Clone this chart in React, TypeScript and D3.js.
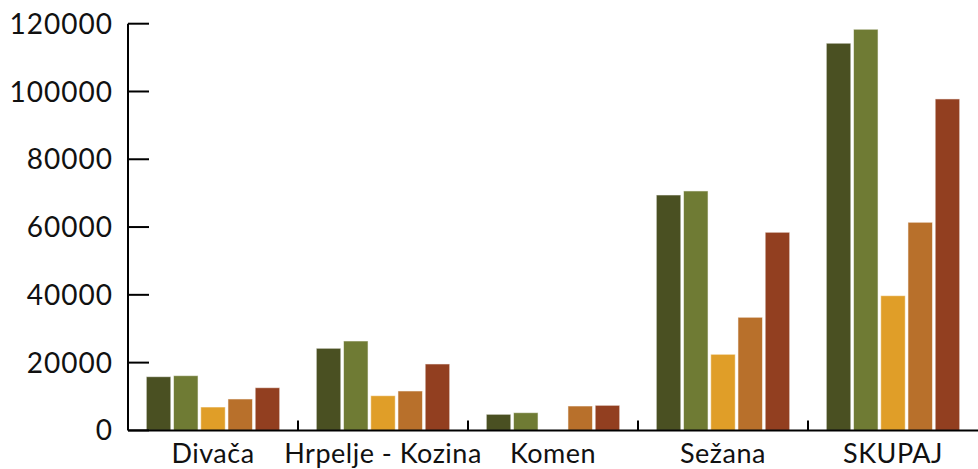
import { useRef, useEffect } from "react"
import * as d3 from "d3"

const categories = ["Divača", "Hrpelje - Kozina", "Komen", "Sežana", "SKUPAJ"]
const seriesNames = ["s1", "s2", "s3", "s4", "s5"]
const series1 = [15850, 24230, 4750, 69460, 114240]
const series2 = [16150, 26380, 5230, 70650, 118360]
const series3 = [6900, 10240, 0, 22460, 39750]
const series4 = [9270, 11630, 7200, 33380, 61410]
const series5 = [12600, 19600, 7400, 58460, 97800]
const colors = ["#4a5022", "#6f7b34", "#e09e28", "#b8702b", "#923f20"]
const yTicks = [0, 20000, 40000, 60000, 80000, 100000, 120000]

export default function App() {
  const svgRef = useRef<SVGSVGElement>(null)

  function drawChart() {
    const width = 978
    const height = 469
    const left = 128
    const right = 978
    const top = 23.7
    const bottom = 430.4
    const fontFamily = "Lato, 'Open Sans', sans-serif"
    const allSeries = [series1, series2, series3, series4, series5]

    const svg = d3.select(svgRef.current).attr("width", width).attr("height", height)
    svg.selectAll("*").remove()

    const x = d3.scaleBand().domain(categories).range([left, right]).padding(0)
    const groupPad = 18.3
    const xInner = d3
      .scaleBand()
      .domain(seriesNames)
      .range([groupPad, x.bandwidth() - groupPad])
      .paddingInner(0.1)
    const y = d3.scaleLinear().domain([0, 120000]).range([bottom, top])

    // Bars
    const groups = svg
      .append("g")
      .selectAll("g")
      .data(categories)
      .enter()
      .append("g")
      .attr("transform", (d) => `translate(${x(d)}, 0)`)

    groups
      .selectAll("rect")
      .data((d, i) => allSeries.map((s, j) => ({ key: seriesNames[j], value: s[i], color: colors[j] })))
      .enter()
      .filter((d) => d.value > 0)
      .append("rect")
      .attr("x", (d) => xInner(d.key)!)
      .attr("y", (d) => y(d.value))
      .attr("width", xInner.bandwidth())
      .attr("height", (d) => y(0) - y(d.value))
      .attr("fill", (d) => d.color)
      .attr("stroke", "rgba(255,255,255,0.55)")
      .attr("stroke-width", 1)

    // Left axis
    const leftAxis = svg.append("g")
    leftAxis
      .append("line")
      .attr("x1", left)
      .attr("x2", left)
      .attr("y1", y(120000))
      .attr("y2", y(0))
      .attr("stroke", "#000")
      .attr("stroke-width", 2)
    leftAxis
      .selectAll("line.tick")
      .data(yTicks)
      .enter()
      .append("line")
      .attr("class", "tick")
      .attr("x1", left)
      .attr("x2", left + 21)
      .attr("y1", (d) => y(d))
      .attr("y2", (d) => y(d))
      .attr("stroke", "#000")
      .attr("stroke-width", 2)
    leftAxis
      .selectAll("text")
      .data(yTicks)
      .enter()
      .append("text")
      .text((d) => d)
      .attr("x", 113)
      .attr("y", (d) => y(d))
      .attr("dy", "0.36em")
      .attr("text-anchor", "end")
      .style("font-size", "28px")
      .style("letter-spacing", "1px")
      .style("font-family", fontFamily)
      .style("fill", "#111")

    // Bottom axis
    const bottomAxis = svg.append("g")
    bottomAxis
      .append("line")
      .attr("x1", left)
      .attr("x2", right)
      .attr("y1", y(0))
      .attr("y2", y(0))
      .attr("stroke", "#000")
      .attr("stroke-width", 2)
    bottomAxis
      .selectAll("line.tick")
      .data(categories.slice(1))
      .enter()
      .append("line")
      .attr("class", "tick")
      .attr("x1", (d) => x(d)!)
      .attr("x2", (d) => x(d)!)
      .attr("y1", y(0))
      .attr("y2", y(0) - 10)
      .attr("stroke", "#000")
      .attr("stroke-width", 2)
    bottomAxis
      .selectAll("text")
      .data(categories)
      .enter()
      .append("text")
      .text((d) => d)
      .attr("x", (d) => x(d)! + x.bandwidth() / 2)
      .attr("y", 463)
      .attr("text-anchor", "middle")
      .style("font-size", "27px")
      .style("letter-spacing", "0.5px")
      .style("font-family", fontFamily)
      .style("fill", "#111")
  }

  useEffect(() => {
    drawChart()
  }, [svgRef])

  return (
    <div>
      <svg ref={svgRef} style={{ position: "absolute", left: 0, top: 0 }}></svg>
    </div>
  )
}
